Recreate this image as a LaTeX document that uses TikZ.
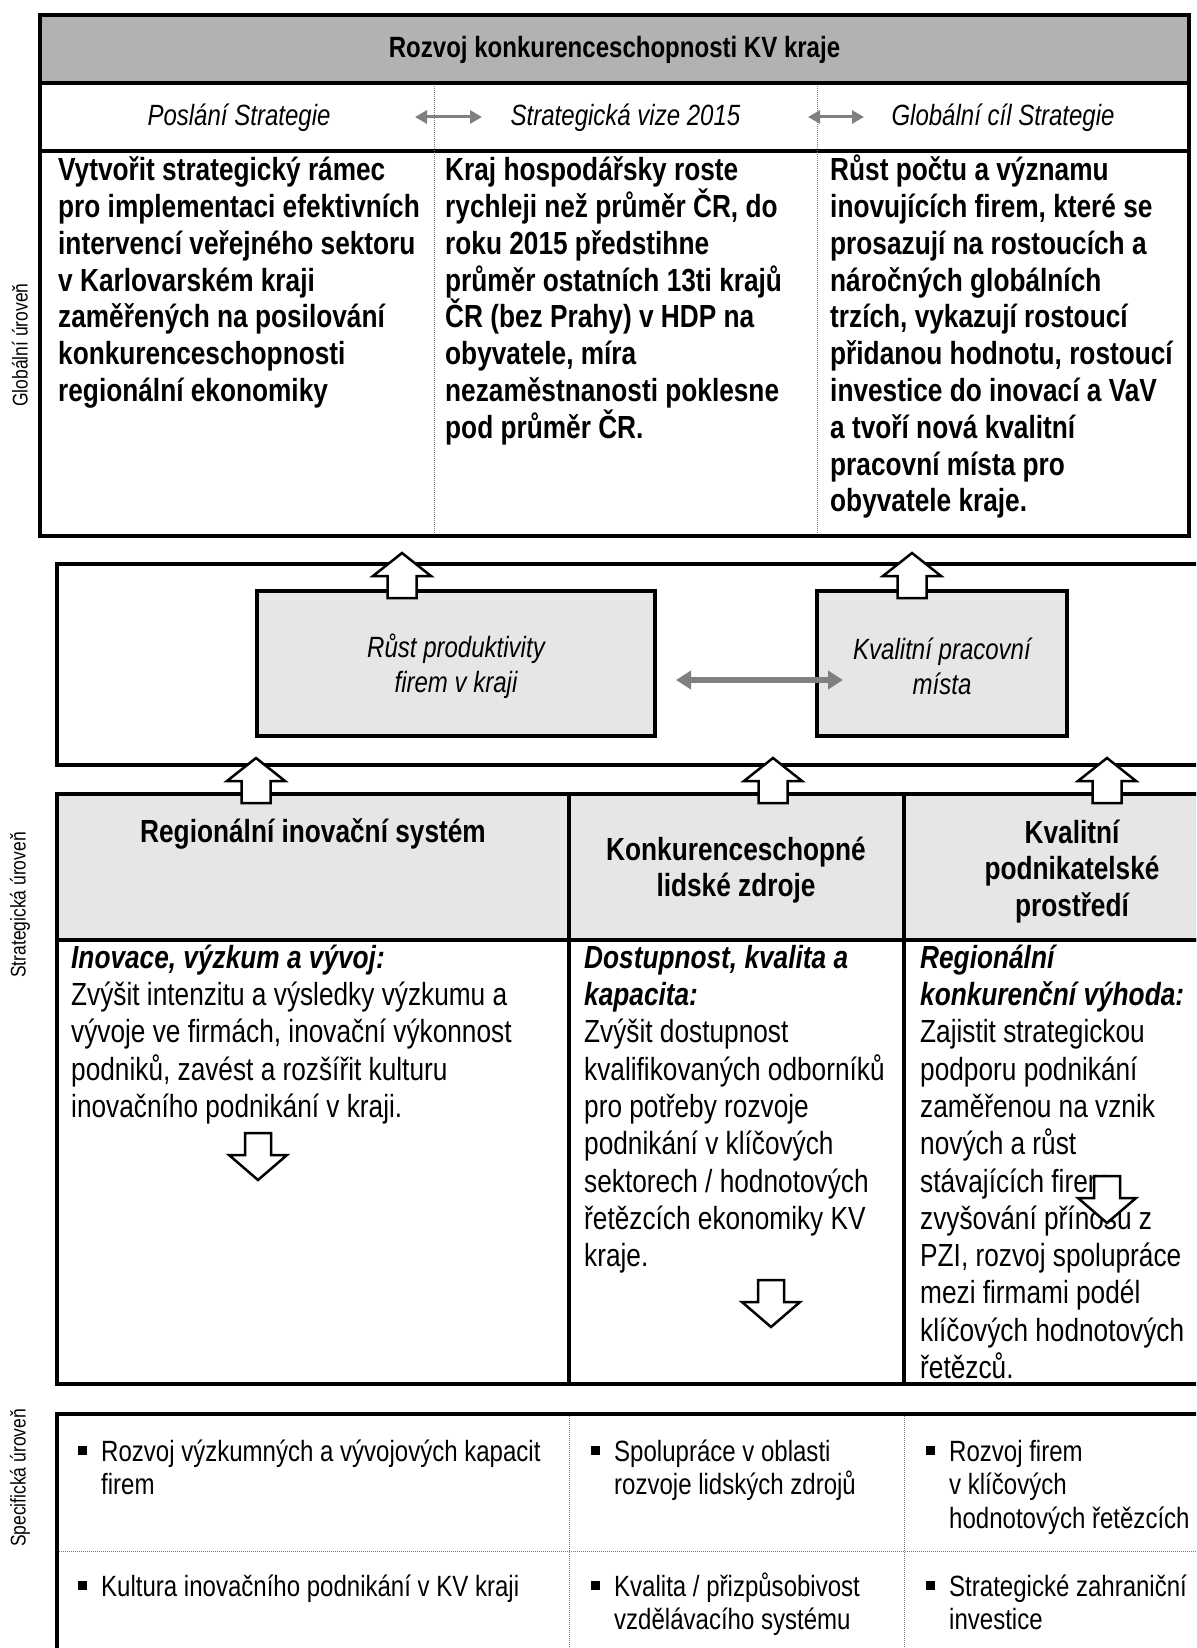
\documentclass[tikz,border=0pt]{standalone}
\usepackage{fontspec}
\setmainfont{Liberation Sans}[FakeStretch=0.82]
\usetikzlibrary{arrows.meta}
\definecolor{hdrgray}{HTML}{B2B2B2}
\definecolor{lgray}{HTML}{E6E6E6}
\definecolor{agray}{HTML}{808080}
\definecolor{dotgray}{HTML}{7A7A7A}
\newcommand\tstr{\rule{0pt}{0.95em}}
\newcommand\bul{\llap{\raisebox{6pt}{\rule{9pt}{9pt}}\hspace{14pt}}}
\begin{document}
\begin{tikzpicture}[x=1pt,y=-1pt,
  box/.style={draw=black, line width=4pt, inner sep=0pt, outer sep=0pt, anchor=north west},
  bline/.style={line width=4pt},
  dline/.style={dotgray, line width=1pt, densely dotted},
  garrow/.style={agray, line width=3pt, {Triangle[length=12pt,width=13pt]}-{Triangle[length=12pt,width=13pt]}},
  garrowb/.style={agray, line width=6pt, {Triangle[length=15pt,width=18pt]}-{Triangle[length=15pt,width=18pt]}},
  blockarrow/.style={draw=black, fill=white, line width=2.5pt, line join=miter},
  ttl/.style={anchor=base, inner sep=0pt, font=\fontsize{29.3}{33}\selectfont\bfseries},
  sub/.style={anchor=base, inner sep=0pt, font=\fontsize{29.3}{33}\selectfont\itshape},
  tbody/.style={anchor=north west, align=left, inner sep=0pt, font=\fontsize{32}{36.8}\selectfont\bfseries},
  gtxt/.style={align=center, inner sep=0pt, font=\fontsize{29.3}{35}\selectfont\itshape},
  shd/.style={align=center, inner sep=0pt, font=\fontsize{32}{36.5}\selectfont\bfseries},
  sbody/.style={anchor=north west, align=left, inner sep=0pt, font=\fontsize{32}{37.3}\selectfont},
  spec/.style={anchor=north west, align=left, inner sep=0pt, font=\fontsize{29.3}{33.5}\selectfont},
  lab/.style={rotate=90, inner sep=0pt, font=\fontsize{21.3}{24}\selectfont},
  uparr/.pic={\path[blockarrow] (-14.5,0) -- (-14.5,-22) -- (-29,-22) -- (0,-45) -- (29,-22) -- (14.5,-22) -- (14.5,0) -- cycle;},
  dnarr/.pic={\path[blockarrow] (-13,0) -- (-13,22) -- (-29,22) -- (0,47) -- (29,22) -- (13,22) -- (13,0) -- cycle;}
]
\useasboundingbox (0,0) rectangle (1196,1648);
\clip (0,0) rectangle (1196,1648);

% ---------- global level ----------
\node[box, fill=hdrgray, minimum width=1149pt, minimum height=68pt] (title) at (40,15) {};
\node[ttl] (titletxt) at (614.5,58) {Rozvoj konkurenceschopnosti KV kraje};
\node[box, minimum width=1149pt, minimum height=453pt] (glob) at (40,83) {};
\draw[bline] (40,151) -- (1189,151);
\draw[dline] (434,86) -- (434,533);
\draw[dline] (817,86) -- (817,533);

\node[sub] (sub1) at (239,126) {Poslání Strategie};
\node[sub] (sub2) at (625.5,126) {Strategická vize 2015};
\node[sub] (sub3) at (1003,126) {Globální cíl Strategie};
\coordinate (a1l) at (415,117);
\coordinate (a1r) at (482,117);
\coordinate (a2l) at (808,117);
\coordinate (a2r) at (864,117);
\draw[garrow] (a1l) -- (a1r);
\draw[garrow] (a2l) -- (a2r);

\node[tbody] (gt1) at (58,150) {\tstr Vytvořit strategický rámec\\ pro implementaci efektivních\\ intervencí veřejného sektoru\\ v Karlovarském kraji\\ zaměřených na posilování\\ konkurenceschopnosti\\ regionální ekonomiky};
\node[tbody] (gt2) at (445,150) {\tstr Kraj hospodářsky roste\\ rychleji než průměr ČR, do\\ roku 2015 předstihne\\ průměr ostatních 13ti krajů\\ ČR (bez Prahy) v HDP na\\ obyvatele, míra\\ nezaměstnanosti poklesne\\ pod průměr ČR.};
\node[tbody] (gt3) at (830,150) {\tstr Růst počtu a významu\\ inovujících firem, které se\\ prosazují na rostoucích a\\ náročných globálních\\ trzích, vykazují rostoucí\\ přidanou hodnotu, rostoucí\\ investice do inovací a VaV\\ a tvoří nová kvalitní\\ pracovní místa pro\\ obyvatele kraje.};

% ---------- middle level ----------
\node[box, minimum width=1193pt, minimum height=201pt] (mid) at (57,564) {};
\node[box, fill=lgray, minimum width=398pt, minimum height=145pt] (g1) at (257,591) {};
\node[gtxt] (g1t) at ([yshift=-3pt]g1.center) {Růst produktivity\\ firem v kraji};
\node[box, fill=lgray, minimum width=250pt, minimum height=145pt] (g2) at (817,591) {};
\node[gtxt] (g2t) at ([yshift=-3pt]g2.center) {Kvalitní pracovní\\ místa};
\coordinate (m1) at (676,680);
\coordinate (m2) at (843,680);
\draw[garrowb] (m1) -- (m2);

% ---------- strategic level ----------
\node[box, fill=lgray, minimum width=1193pt, minimum height=146pt] (shead) at (57,794) {};
\node[box, minimum width=1193pt, minimum height=444pt] (sbody) at (57,940) {};
\draw[bline] (569,794) -- (569,1384);
\draw[bline] (904,794) -- (904,1384);

\node[shd, anchor=base] (sh1) at (313,842) {Regionální inovační systém};
\node[shd, anchor=north] (sh2) at (736,829.6) {\tstr Konkurenceschopné\\ lidské zdroje};
\node[shd, anchor=north] (sh3) at (1072,812.6) {\tstr Kvalitní\\ podnikatelské\\ prostředí};

\node[sbody] (sb1) at (71,937.6) {\tstr\textbf{\textit{Inovace, výzkum a vývoj:}}\\ Zvýšit intenzitu a výsledky výzkumu a\\ vývoje ve firmách, inovační výkonnost\\ podniků, zavést a rozšířit kulturu\\ inovačního podnikání v kraji.};
\node[sbody] (sb2) at (584,937.6) {\tstr\textbf{\textit{Dostupnost, kvalita a}}\\ \textbf{\textit{kapacita:}}\\ Zvýšit dostupnost\\ kvalifikovaných odborníků\\ pro potřeby rozvoje\\ podnikání v klíčových\\ sektorech / hodnotových\\ řetězcích ekonomiky KV\\ kraje.};
\node[sbody] (sb3) at (920,937.6) {\tstr\textbf{\textit{Regionální}}\\ \textbf{\textit{konkurenční výhoda:}}\\ Zajistit strategickou\\ podporu podnikání\\ zaměřenou na vznik\\ nových a růst\\ stávajících firem,\\ zvyšování přínosu z\\ PZI, rozvoj spolupráce\\ mezi firmami podél\\ klíčových hodnotových\\ řetězců.};

% ---------- specific level ----------
\node[box, minimum width=1193pt, minimum height=300pt] (spc) at (57,1414) {};
\draw[dline] (59,1551) -- (1196,1551);
\draw[dline] (569,1416) -- (569,1648);
\draw[dline] (904,1416) -- (904,1648);

\node[spec] (sp11) at (101,1433) {\tstr\bul Rozvoj výzkumných a vývojových kapacit\\ firem};
\node[spec] (sp12) at (614,1433) {\tstr\bul Spolupráce v oblasti\\ rozvoje lidských zdrojů};
\node[spec] (sp13) at (949,1433) {\tstr\bul Rozvoj firem\\ v klíčových\\ hodnotových řetězcích};
\node[spec] (sp21) at (101,1568) {\tstr\bul Kultura inovačního podnikání v KV kraji};
\node[spec] (sp22) at (614,1568) {\tstr\bul Kvalita / přizpůsobivost\\ vzdělávacího systému};
\node[spec] (sp23) at (949,1568) {\tstr\bul Strategické zahraniční\\ investice};

% ---------- level labels ----------
\node[lab] (lab1) at (20,345) {Globální úroveň};
\node[lab] (lab2) at (20,905) {Strategická úroveň};
\node[lab] (lab3) at (20,1478) {Specifická úroveň};

% ---------- block arrows ----------
\pic (uA) at (402,598) {uparr};
\pic (uB) at (912,598) {uparr};
\pic (uC) at (256,803) {uparr};
\pic (uD) at (773,803) {uparr};
\pic (uE) at (1107,803) {uparr};
\pic (dA) at (258,1133) {dnarr};
\pic (dB) at (771,1280) {dnarr};
\pic (dC) at (1107,1176) {dnarr};
\end{tikzpicture}
\end{document}
